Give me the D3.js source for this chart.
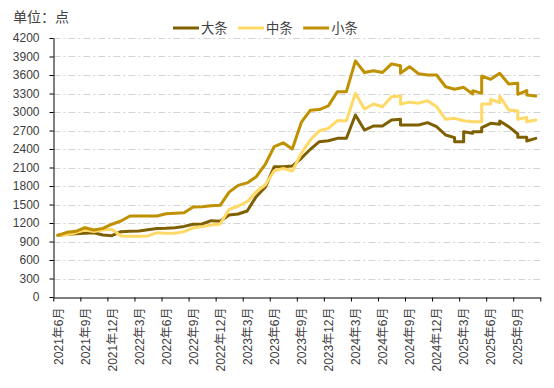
<!DOCTYPE html>
<html>
<head>
<meta charset="utf-8">
<script src="https://cdn.jsdelivr.net/npm/d3@7"></script>
<style>
  html, body { margin: 0; padding: 0; background: #fff; }
  svg { display: block; }
  text { font-family: "Liberation Sans", Arial, "Noto Sans CJK SC", sans-serif; }
</style>
</head>
<body>
<svg id="chart" width="554" height="388"></svg>
<script>
// ---- data ----
const seriesNames = ["大条", "中条", "小条"];
const seriesColors = ["#7f6000", "#ffd966", "#bf9000"];

const dates = [
  "2021-06","2021-07","2021-08","2021-09","2021-10","2021-11","2021-12",
  "2022-01","2022-02","2022-03","2022-04","2022-05","2022-06","2022-07","2022-08","2022-09","2022-10","2022-11","2022-12",
  "2023-01","2023-02","2023-03","2023-04","2023-05","2023-06","2023-07","2023-08","2023-09","2023-10","2023-11","2023-12",
  "2024-01","2024-02","2024-03","2024-04","2024-05","2024-06","2024-07","2024-08","2024-08","2024-09","2024-10","2024-11","2024-12",
  "2025-01","2025-02","2025-02","2025-03","2025-03","2025-04","2025-04","2025-05","2025-05","2025-06","2025-06",
  "2025-07","2025-07","2025-08","2025-09","2025-09","2025-10","2025-10","2025-11"
];

const largeValues = [
  1000,1016,1025,1035,1043,1005,995,
  1060,1065,1070,1090,1110,1113,1124,1145,1180,1184,1238,1227,
  1330,1346,1395,1627,1779,2113,2113,2124,2249,2395,2519,2535,
  2573,2573,2951,2708,2773,2773,2870,2881,2789,2790,2789,2827,2762,
  2627,2584,2519,2519,2681,2654,2681,2681,2746,2816,2816,
  2800,2854,2762,2643,2589,2589,2530,2573
];

const mediumValues = [
  1000,1011,1043,1087,1060,1087,1097,
  990,985,985,990,1043,1033,1033,1060,1120,1141,1168,1184,
  1422,1476,1546,1708,1816,2048,2086,2043,2330,2546,2697,2735,
  2859,2859,3303,3049,3130,3086,3248,3259,3130,3160,3141,3184,3086,
  2881,2897,2897,2859,2859,2843,2843,2843,3130,3130,3205,
  3151,3259,3032,3022,2881,2913,2843,2870
];

const smallValues = [
  1000,1049,1065,1124,1086,1113,1180,
  1232,1313,1313,1313,1313,1350,1360,1367,1460,1465,1480,1487,
  1700,1810,1850,1950,2150,2440,2500,2400,2830,3030,3040,3100,
  3330,3330,3830,3640,3670,3640,3780,3750,3630,3735,3620,3600,3600,
  3410,3370,3370,3400,3400,3292,3346,3303,3584,3530,3530,
  3627,3627,3454,3465,3287,3346,3276,3259
];

const xTickLabels = [
  "2021年6月","2021年9月","2021年12月","2022年3月","2022年6月","2022年9月",
  "2022年12月","2023年3月","2023年6月","2023年9月","2023年12月","2024年3月",
  "2024年6月","2024年9月","2024年12月","2025年3月","2025年6月","2025年9月"
];
const yTickValues = [0,300,600,900,1200,1500,1800,2100,2400,2700,3000,3300,3600,3900,4200];
const unitLabel = "单位：点";

// ---- chart ----
const svg = d3.select("#chart");
const plotLeft = 53.3, plotRight = 540.3, plotTop = 38, plotBottom = 297;

const monthIndex = s => { const [yy, mm] = s.split("-").map(Number); return (yy - 2021) * 12 + (mm - 6); };
const x = d3.scaleLinear().domain([0, 54]).range([plotLeft, plotRight]);
const y = d3.scaleLinear().domain([0, 4200]).range([plotBottom, plotTop]);

svg.append("rect").attr("width", 554).attr("height", 388).attr("fill", "#fff");

// gridlines
svg.append("g").selectAll("line").data(yTickValues.filter(v => v > 0)).join("line")
  .attr("x1", plotLeft).attr("x2", plotRight)
  .attr("y1", d => Math.round(y(d)) + 0.5).attr("y2", d => Math.round(y(d)) + 0.5)
  .attr("stroke", "#d4d4d4").attr("stroke-width", 1)
  .attr("stroke-dasharray", "7,3,2,3");

// y axis
const yAxis = svg.append("g").attr("transform", `translate(${Math.round(plotLeft)+0.5},0)`)
  .call(d3.axisLeft(y).tickValues(yTickValues).tickSize(4).tickSizeOuter(0).tickPadding(10)
    .tickFormat(d3.format("d")));
yAxis.select(".domain").attr("stroke", "#000");
yAxis.selectAll(".tick line").attr("stroke", "#000");
yAxis.selectAll("text").attr("font-size", "12px").attr("fill", "#404040")
  .style("font-family", "'Liberation Sans', Arial, sans-serif");

// x axis
const xTicks = d3.range(0, 55, 3);
const xAxis = svg.append("g").attr("transform", `translate(0,${Math.round(plotBottom)+0.5})`)
  .call(d3.axisBottom(x).tickValues(xTicks).tickSize(4).tickSizeOuter(0)
    .tickFormat((d, i) => xTickLabels[i] || ""));
xAxis.select(".domain").attr("stroke", "#000");
xAxis.selectAll(".tick line").attr("stroke", "#000");
xAxis.selectAll("text")
  .attr("x", 0).attr("y", 0).attr("dy", "0.35em")
  .attr("text-anchor", "end")
  .attr("transform", `translate(${(x(1) - x(0)) / 2},10) rotate(-90)`)
  .attr("font-size", "12px").attr("fill", "#404040")
  .style("font-family", "'Liberation Sans', Arial, 'Noto Sans CJK SC', sans-serif");

// lines
const allSeries = [largeValues, mediumValues, smallValues];
const line = d3.line()
  .x((d, i) => x(monthIndex(dates[i]) + 0.5))
  .y(d => y(d));
allSeries.forEach((vals, k) => {
  svg.append("path").datum(vals)
    .attr("d", line)
    .attr("fill", "none")
    .attr("stroke", seriesColors[k])
    .attr("stroke-width", 3)
    .attr("stroke-linejoin", "round")
    .attr("stroke-linecap", "round");
});

// title
svg.append("text").attr("x", 13).attr("y", 22).attr("font-size", "14px").attr("fill", "#404040")
  .style("font-family", "'Noto Sans CJK SC', sans-serif")
  .text(unitLabel);

// legend
const legend = svg.append("g");
let lx = 173;
seriesNames.forEach((name, k) => {
  legend.append("line").attr("x1", lx).attr("x2", lx + 26).attr("y1", 28).attr("y2", 28)
    .attr("stroke", seriesColors[k]).attr("stroke-width", 3);
  const t = legend.append("text").attr("x", lx + 28).attr("y", 32.5)
    .attr("font-size", "13.3px").attr("fill", "#404040")
    .style("font-family", "'Noto Sans CJK SC', sans-serif")
    .text(name);
  lx = lx + 28 + t.node().getComputedTextLength() + 10.5;
});
</script>
</body>
</html>
